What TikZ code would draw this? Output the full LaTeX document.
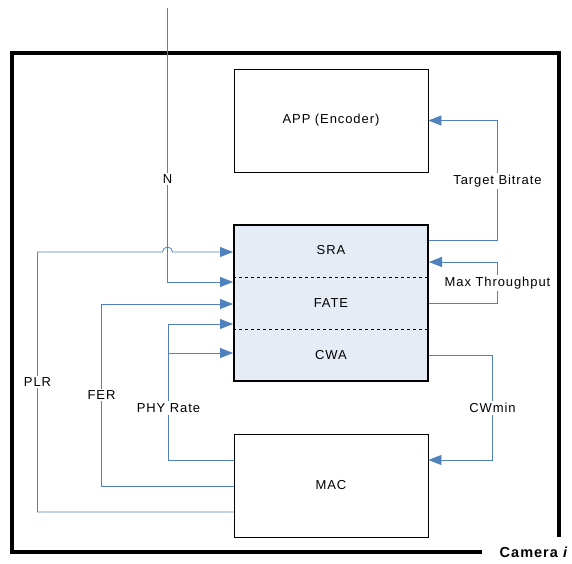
\documentclass[tikz,border=0pt]{standalone}
\usepackage{fontspec}
\setmainfont{Liberation Sans}[LetterSpace=7]
\usetikzlibrary{arrows.meta}
\definecolor{sigblue}{RGB}{79,129,189}
\definecolor{corefill}{RGB}{230,236,245}
\tikzset{
  block/.style={draw=black, line width=0.8pt, minimum width=194pt, minimum height=103pt, inner sep=0pt, font=\fontsize{13}{15}\selectfont},
  coreblock/.style={draw=black, line width=2pt, fill=corefill, minimum width=194pt, minimum height=156pt, inner sep=0pt},
  part/.style={font=\fontsize{13}{15}\selectfont, inner sep=0pt},
  sig/.style={draw=sigblue, line width=0.8pt},
  sigarrow/.style={sig, -{Triangle[length=13pt,width=10pt]}, sigblue},
  tag/.style={fill=white, inner sep=2pt, font=\fontsize{13}{15}\selectfont},
  frameline/.style={line width=4pt, line cap=rect}
}
\begin{document}
\begin{tikzpicture}[x=1pt, y=-1pt]
\useasboundingbox (0,0) rectangle (572,563);

% camera enclosure
\coordinate (frBL) at (12,552);
\coordinate (frTL) at (12,53);
\coordinate (frTR) at (559,53);
\coordinate (frBR) at (559,535);
\coordinate (frBE) at (480,552);
\draw[frameline] (frBE) -- (frBL) -- (frTL) -- (frTR) -- (frBR);
\node[font=\fontsize{14.5}{16}\selectfont\bfseries, inner sep=0pt] (cam) at (534,552) {Camera \textit{i}};

% blocks
\node[block] (app) at (331,120.5) {\raisebox{-1pt}{APP (Encoder)}};
\node[coreblock] (core) at (331,303) {};
\draw[dashed, line width=0.6pt] (core.west |- 0,277) coordinate (d1l) -- (core.east |- d1l);
\draw[dashed, line width=0.6pt] (core.west |- 0,329) coordinate (d2l) -- (core.east |- d2l);
\node[part] (sra) at (331,250) {SRA};
\node[part] (fate) at (331,303) {FATE};
\node[part] (cwa) at (331,355.5) {CWA};
\node[block] (mac) at (331,485.5) {\raisebox{-1pt}{MAC}};

% bend points of the feedback paths
\coordinate (nTop) at (167.5,8);
\coordinate (nIn) at (167.5,282);
\coordinate (plrB) at (37.5,512);
\coordinate (plrT) at (37.5,252);
\coordinate (hopL) at (162.5,252);
\coordinate (ferB) at (101.5,486);
\coordinate (ferT) at (101.5,304);
\coordinate (phyB) at (168.5,460);
\coordinate (phyT) at (168.5,324);
\coordinate (phyM) at (168.5,353);
\coordinate (tbOut) at (428,240);
\coordinate (tbC) at (497.5,120.5);
\coordinate (mtOut) at (428,303);
\coordinate (mtC) at (497.5,262);
\coordinate (cwOut) at (428,355);
\coordinate (cwC) at (492.5,460);

% left-hand inputs
\draw[sigarrow] (nTop) |- (core.west |- nIn);
\draw[sigarrow] (mac.west |- plrB) -| (plrT) -- (hopL)
  arc[start angle=180, end angle=0, radius=5pt] -- (core.west |- plrT);
\draw[sigarrow] (mac.west |- ferB) -| (ferT) -- (core.west |- ferT);
\draw[sigarrow] (mac.west |- phyB) -| (phyT) -- (core.west |- phyT);
\draw[sigarrow] (phyM) -- (core.west |- phyM);

% right-hand outputs
\draw[sigarrow] (core.east |- tbOut) -| (tbC) -- (app.east |- tbC);
\draw[sigarrow] (core.east |- mtOut) -| (mtC) -- (core.east |- mtC);
\draw[sigarrow] (core.east |- cwOut) -| (cwC) -- (mac.east |- cwC);

% signal labels
\node[tag] (lN) at (167.5,179) {N};
\node[tag] (lPLR) at (37.5,382) {PLR};
\node[tag] (lFER) at (101.5,395) {FER};
\node[tag] (lPHY) at (168.5,408) {PHY Rate};
\node[tag] (lTB) at (497.5,181) {Target Bitrate};
\node[tag] (lMT) at (497.5,283) {Max Throughput};
\node[tag] (lCW) at (492.5,408) {CWmin};
\end{tikzpicture}
\end{document}
